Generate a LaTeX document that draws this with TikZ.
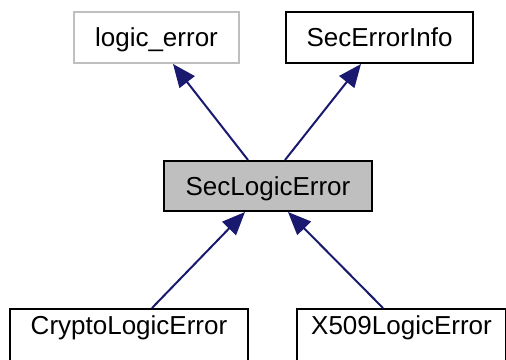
\documentclass[tikz,border=0pt]{standalone}
\usepackage{fontspec}
\setmainfont{Liberation Sans}
\usetikzlibrary{arrows.meta,calc}
\definecolor{edgeblue}{HTML}{191970}
\definecolor{lightframe}{HTML}{BFBFBF}
\definecolor{nodefill}{HTML}{BFBFBF}
\tikzset{
  cls/.style={draw=black, line width=2pt, inner sep=0pt, anchor=north west,
    minimum height=51pt, text height=18.5pt, text depth=0pt,
    font=\fontsize{26}{31}\selectfont},
  leaf/.style={cls, minimum height=54pt, text depth=22.5pt},
  inherit/.style={draw=edgeblue, line width=2pt,
    -{Triangle[length=23pt,width=19pt]}},
}
\begin{document}
\begin{tikzpicture}[x=1pt,y=-1pt]
  \useasboundingbox (0,0) rectangle (506,359);
  \clip (0,0) rectangle (506,359);

  % parent classes
  \node[cls, draw=lightframe, minimum width=165pt] (lerr) at (73,11) {logic\_error};
  \node[cls, minimum width=187pt] (info) at (285,11) {SecErrorInfo};

  % the class itself
  \node[cls, fill=nodefill, minimum width=208pt, minimum height=50pt] (sec) at (163,160) {SecLogicError};

  % derived classes
  \node[leaf, minimum width=238pt] (crypto) at (9,308) {CryptoLogicError};
  \node[leaf, minimum width=209pt] (x509) at (296,308) {X509LogicError};

  % inheritance edges
  \draw[inherit] ($(sec.north west)+(85,0)$) -- ($(lerr.south west)+(100,0)$);
  \draw[inherit] ($(sec.north west)+(122,0)$) -- ($(info.south west)+(76,0)$);
  \draw[inherit] ($(crypto.north west)+(143,0)$) -- ($(sec.south west)+(82,0)$);
  \draw[inherit] ($(x509.north west)+(87,0)$) -- ($(sec.south west)+(125,0)$);
\end{tikzpicture}
\end{document}
